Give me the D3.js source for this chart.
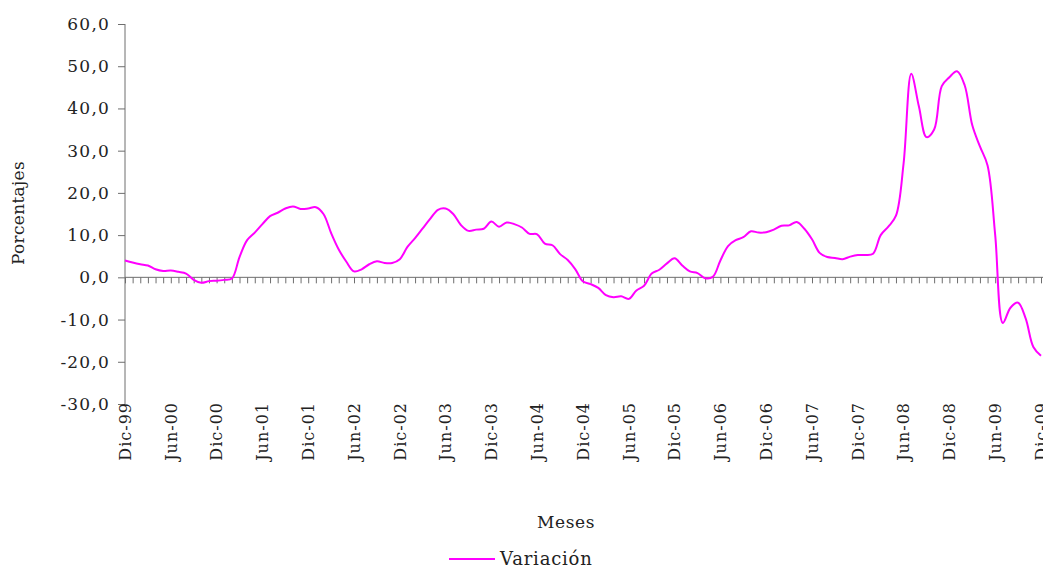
<!DOCTYPE html>
<html lang="es">
<head>
<meta charset="utf-8">
<title>Variación</title>
<script src="https://d3js.org/d3.v7.min.js"></script>
<style>
  body { margin: 0; background: #fff; }
  svg { display: block; font-family: "DejaVu Serif", serif; }
  .axis path, .axis line { stroke: #6e6e6e; }
  .axis text { fill: #222; font-size: 17px; font-family: "DejaVu Serif", serif; }
  .yaxis text { letter-spacing: 1.2px; }
</style>
</head>
<body>
<script>
// categorias: meses de Dic-99 a Dic-09
var months = ["Ene","Feb","Mar","Abr","May","Jun","Jul","Ago","Sep","Oct","Nov","Dic"];
var years = ["99","00","01","02","03","04","05","06","07","08","09"];
var tickLabels = ["Dic-99","Jun-00","Dic-00","Jun-01","Dic-01","Jun-02","Dic-02","Jun-03","Dic-03",
  "Jun-04","Dic-04","Jun-05","Dic-05","Jun-06","Dic-06","Jun-07","Dic-07","Jun-08","Dic-08","Jun-09","Dic-09"];
var yTicks = [-30, -20, -10, 0, 10, 20, 30, 40, 50, 60];

// variacion mensual (%)
var variacion = [
  4.0, 3.5, 3.1, 2.8, 1.9, 1.5, 1.6, 1.3, 0.9, -0.6, -1.3, -0.9, -0.8,
  -0.6, -0.3, 4.8, 8.8, 10.6, 12.6, 14.5, 15.3, 16.3, 16.8, 16.2, 16.3,
  16.6, 15.0, 10.5, 6.6, 3.7, 1.4, 1.9, 3.1, 3.8, 3.4, 3.4, 4.3,
  7.2, 9.3, 11.6, 13.9, 16.0, 16.3, 15.0, 12.4, 11.0, 11.3, 11.5, 13.2,
  12.0, 13.0, 12.6, 11.8, 10.3, 10.2, 8.0, 7.6, 5.5, 4.1, 1.9, -1.0,
  -1.6, -2.5, -4.2, -4.7, -4.5, -5.1, -3.1, -2.0, 0.9, 1.8, 3.3, 4.5,
  2.8, 1.4, 1.0, -0.2, 0.1, 4.0, 7.4, 8.8, 9.5, 10.9, 10.6, 10.7,
  11.3, 12.2, 12.3, 13.1, 11.5, 9.0, 5.8, 4.8, 4.6, 4.3, 4.9, 5.3,
  5.3, 5.6, 10.0, 12.0, 14.6, 27.0, 48.2, 40.5, 33.2, 35.0, 45.3, 47.4,
  48.8, 45.5, 36.0, 31.0, 26.5, 10.0, -10.8, -7.2, -6.0, -9.8, -16.5, -18.6
];

// etiqueta de cada mes
var categories = [];
for (var i = 0; i < variacion.length; i++) {
  var m = (11 + i) % 12;
  var y = Math.floor((11 + i) / 12);
  categories.push(months[m] + "-" + years[y]);
}

var w = 1043, h = 569;

var svg = d3.select("body").append("svg")
  .attr("width", w)
  .attr("height", h);

var xScale = d3.scalePoint()
  .domain(categories)
  .range([125, 1041]);

var yScale = d3.scaleLinear()
  .domain([-30, 60])
  .range([404, 24]);

// eje Y
var yAxis = d3.axisLeft(yScale)
  .tickValues(yTicks)
  .tickSize(7)
  .tickPadding(8)
  .tickFormat(function(d) { return d3.format(".1f")(d).replace(".", ",").replace("−", "-"); });

svg.append("g")
  .attr("class", "axis yaxis")
  .attr("transform", "translate(125,0)")
  .call(yAxis)
  .call(function(g) { g.select(".domain").attr("d", "M0,24V404"); });

// eje X en cero, una marca por mes
var xAxis = d3.axisBottom(xScale)
  .tickSize(6)
  .tickSizeOuter(0)
  .tickFormat("");

svg.append("g")
  .attr("class", "axis xaxis")
  .attr("transform", "translate(0," + yScale(0) + ")")
  .call(xAxis)
  .call(function(g) { g.select(".domain").attr("d", "M125,0H1043"); });

// etiquetas semestrales abajo
svg.append("g")
  .selectAll("text")
  .data(tickLabels)
  .enter()
  .append("text")
  .attr("transform", function(d) { return "translate(" + xScale(d) + ",402) rotate(-90)"; })
  .attr("dy", "0.36em")
  .attr("text-anchor", "end")
  .attr("fill", "#222")
  .style("font-size", "16px")
  .style("letter-spacing", "1px")
  .text(function(d) { return d; });

// linea
var line = d3.line()
  .x(function(d, i) { return xScale(categories[i]); })
  .y(function(d) { return yScale(d); })
  .curve(d3.curveCatmullRom.alpha(0.5));

svg.append("path")
  .datum(variacion)
  .attr("fill", "none")
  .attr("stroke", "#ff00ff")
  .attr("stroke-width", 2)
  .attr("d", line);

// titulos
svg.append("text")
  .attr("transform", "translate(24,213) rotate(-90)")
  .attr("text-anchor", "middle")
  .attr("fill", "#222")
  .style("font-size", "17px")
  .style("letter-spacing", "0.3px")
  .text("Porcentajes");

svg.append("text")
  .attr("x", 566)
  .attr("y", 528)
  .attr("text-anchor", "middle")
  .attr("fill", "#222")
  .style("font-size", "17px")
  .style("letter-spacing", "0.6px")
  .text("Meses");

// leyenda
svg.append("line")
  .attr("x1", 449).attr("x2", 495)
  .attr("y1", 559).attr("y2", 559)
  .attr("stroke", "#ff00ff")
  .attr("stroke-width", 2);

svg.append("text")
  .attr("x", 500)
  .attr("y", 565)
  .attr("fill", "#222")
  .style("font-size", "18px")
  .style("letter-spacing", "0.8px")
  .text("Variación");
</script>
</body>
</html>
